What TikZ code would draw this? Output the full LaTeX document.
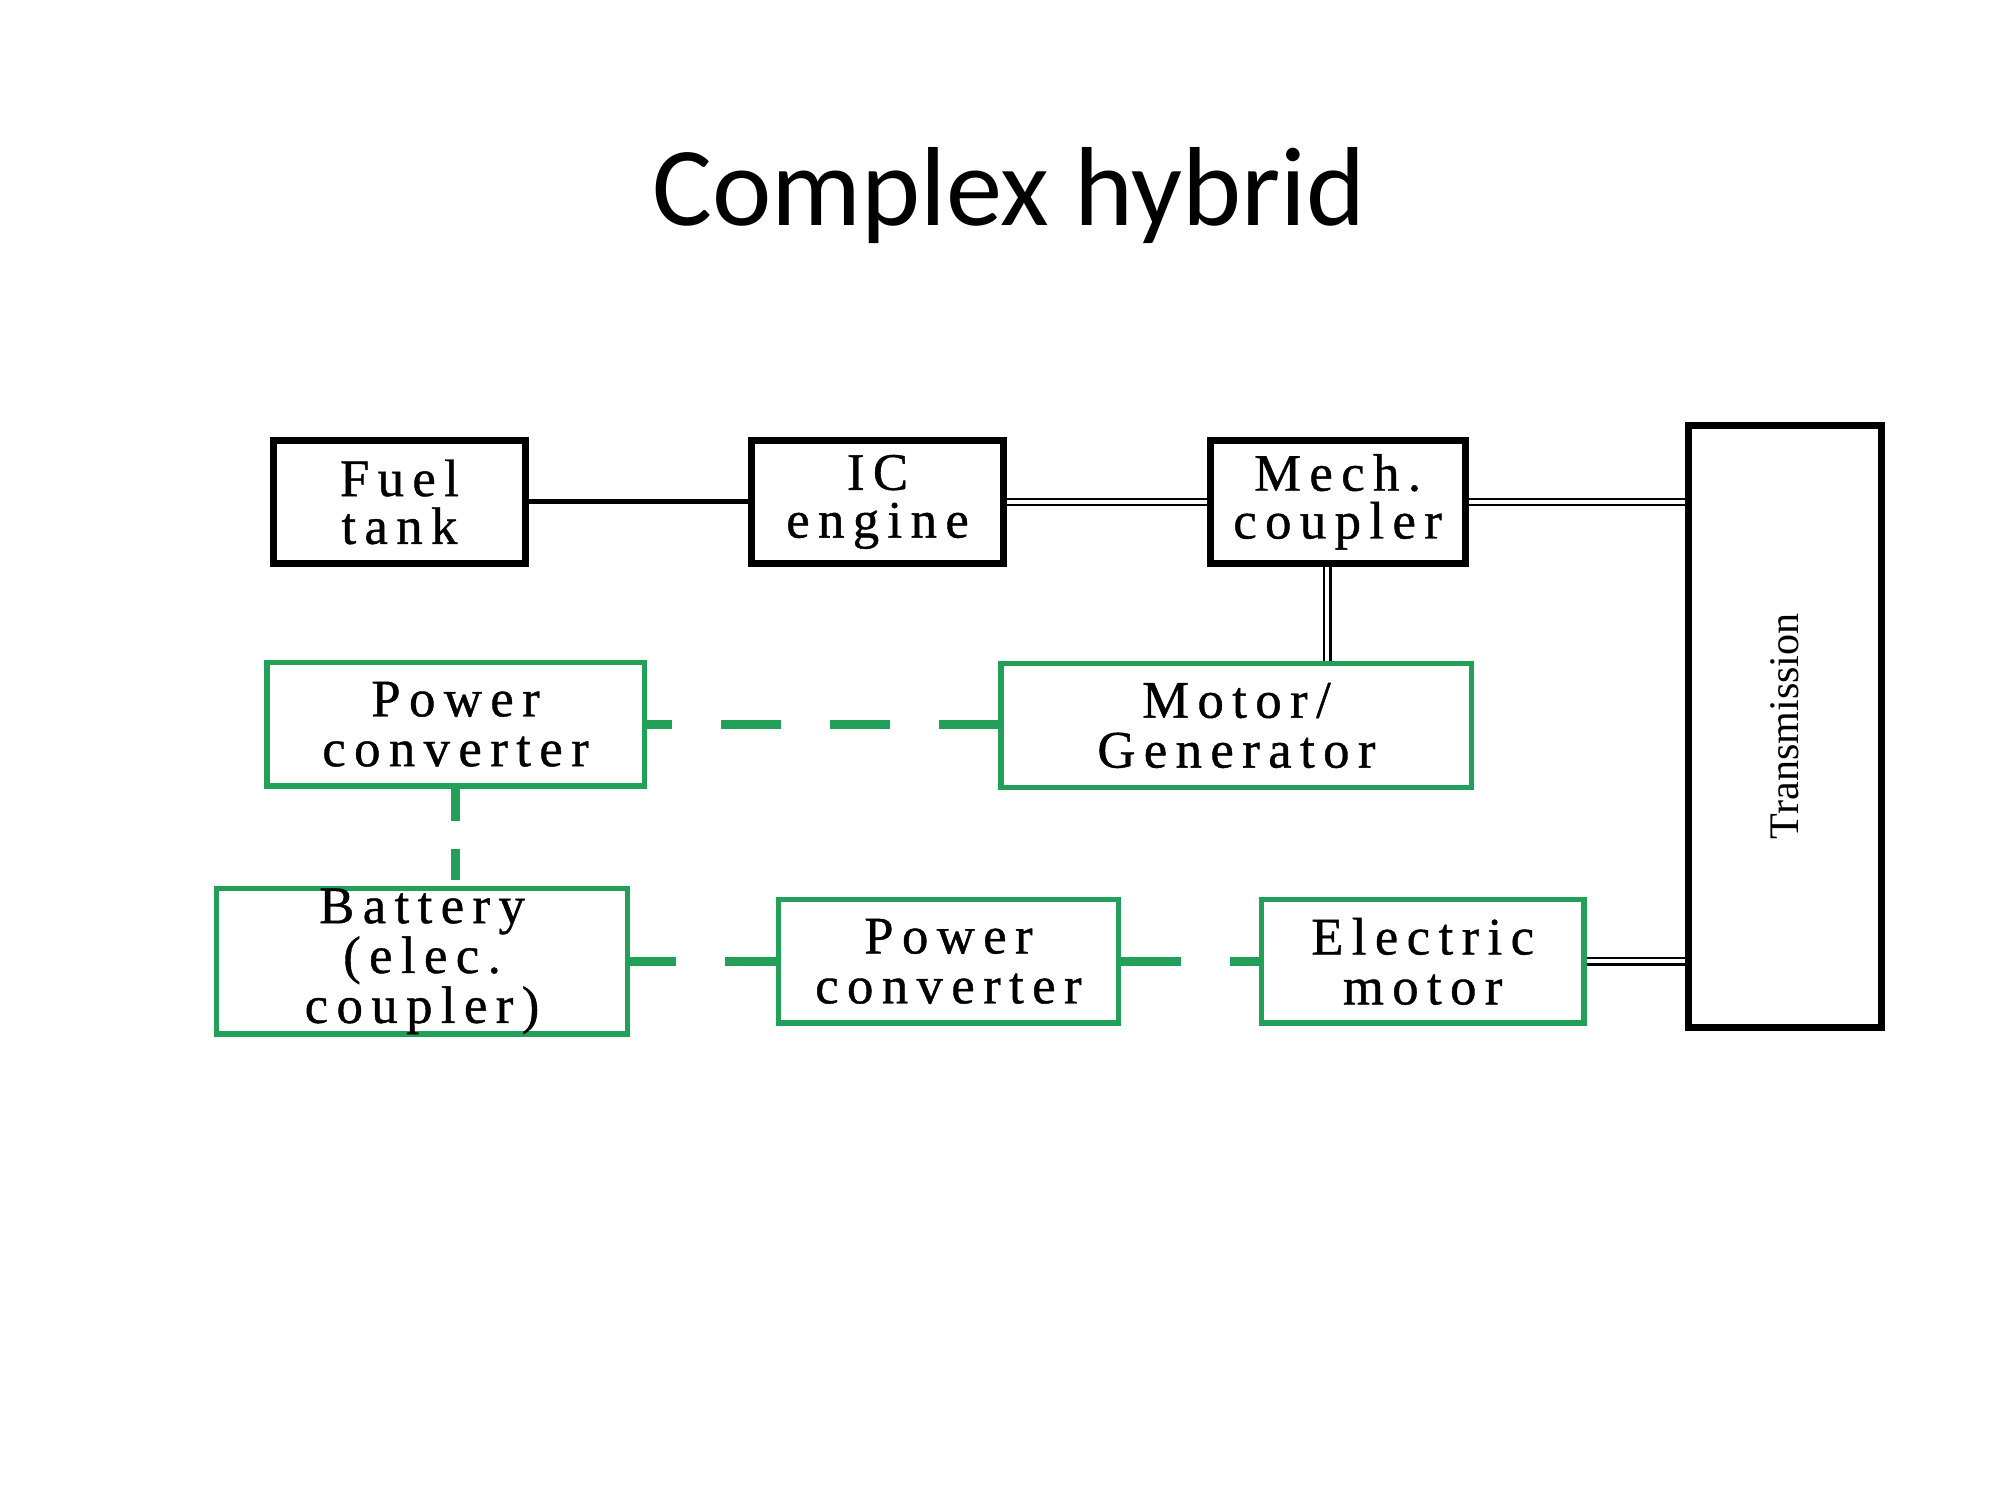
\documentclass[tikz,border=0pt]{standalone}
\usepackage{graphicx}
\usepackage{fontspec}
\setmainfont{Liberation Serif}
\newfontfamily\titlefont{Carlito}
\newfontfamily\boxfont[LetterSpace=16,FakeBold=0.8]{Liberation Serif}
\definecolor{hevgreen}{RGB}{34,160,90}
\newcommand{\px}{0.012887cm}

\begin{document}
\begin{tikzpicture}[x=\px, y=-\px,
  mbox/.style={draw, line width=2pt, align=center, inner sep=0pt,
    font=\boxfont\fontsize{15}{13.6}\selectfont},
  ebox/.style={draw=hevgreen, line width=1.6pt, align=center, inner sep=0pt,
    font=\boxfont\fontsize{15}{14.2}\selectfont},
  dims/.style 2 args={minimum width=#1*\px, minimum height=#2*\px},
  shaft/.style={line width=1.4pt},
  dshaft/.style={double, line width=0.7pt, double distance=1.1pt},
  link/.style={hevgreen, line width=2.6pt, dash pattern=on 17pt off 14pt}]
  \useasboundingbox (0,0) rectangle (1552,1164);
  \node[font=\titlefont\fontsize{32}{38}\selectfont, anchor=base] (title) at (783,175) {Complex hybrid};

  \node[mbox, dims={196}{95}] (fuel) at (310,389.5) {Fuel\\tank};
  \node[mbox, dims={196}{95}] (ice) at (681,389.5) {IC\\engine};
  \node[mbox, dims={198}{95}] (mech) at (1038,389.5) {Mech.\\coupler};
  \node[mbox, dims={150}{467}, font=\fontsize{12}{12}\selectfont] (trans) at (1385,563.5) {\rotatebox{90}{Transmission}};

  \node[ebox, dims={293}{96}] (pc1) at (353.5,562) {Power\\converter};
  \node[ebox, dims={365}{96}] (mg) at (959.5,563) {Motor/\\Generator};
  \node[ebox, dims={319}{112}] (batt) at (327.5,746) {Battery\\(elec.\\coupler)};
  \node[ebox, dims={264}{96}] (pc2) at (736,746) {Power\\converter};
  \node[ebox, dims={250}{96}] (em) at (1104,746) {Electric\\motor};

  \draw[shaft] (fuel) -- (ice);
  \draw[dshaft] (ice) -- (mech);
  \draw[dshaft] (mech.east) -- (mech.east -| trans.west);
  \draw[dshaft] ([xshift=-8*\px]mech.south) -- ([xshift=-8*\px]mech.south |- mg.north);
  \draw[dshaft] (em.east) -- (em.east -| trans.west);

  \draw[link, dash phase=10pt] (pc1.east) -- (pc1.east -| mg.west);
  \draw[link, dash pattern=on 9pt off 8pt] (pc1.south) -- (pc1.south |- batt.north);
  \draw[link, dash phase=4pt] (batt.east) -- (batt.east -| pc2.west);
  \draw[link, dash phase=0pt] (pc2.east) -- (pc2.east -| em.west);
\end{tikzpicture}
\end{document}
